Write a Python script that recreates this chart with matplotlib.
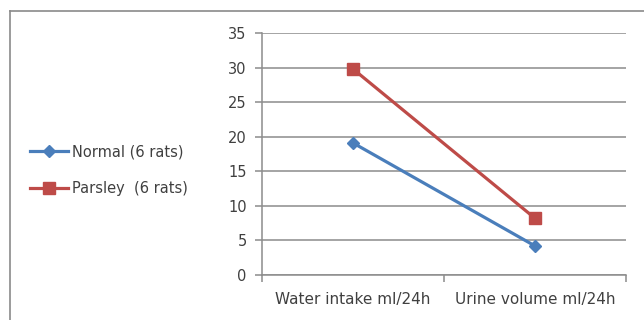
import matplotlib
matplotlib.use("Agg")
import matplotlib.pyplot as plt
from matplotlib.lines import Line2D

categories = ["Water intake ml/24h", "Urine volume ml/24h"]
normal = [19.1, 4.2]
parsley = [29.8, 8.2]
series_labels = ["Normal (6 rats)", "Parsley  (6 rats)"]
y_ticks = [0, 5, 10, 15, 20, 25, 30, 35]

blue = "#4a7ebb"
red = "#be4b48"
grid_gray = "#8c8c8c"
text_color = "#404040"
fs = 10.5

plt.rcParams["font.family"] = ["DejaVu Sans"]

W, H = 644, 320
fig = plt.figure(figsize=(W / 100, H / 100), dpi=100)
fig.patch.set_facecolor("white")

# chart frame (top and left edges)
fig.add_artist(Line2D([10 / W, 10 / W], [0, 1 - 11 / H], transform=fig.transFigure,
                      color="#8a8a8a", lw=1.2))
fig.add_artist(Line2D([10 / W, 1], [1 - 11 / H, 1 - 11 / H], transform=fig.transFigure,
                      color="#8a8a8a", lw=1.2))

left, right, top, bottom = 262, 626, 33, 275
ax = fig.add_axes([left / W, 1 - bottom / H, (right - left) / W, (bottom - top) / H])

x = [0.5, 1.5]
ax.plot(x, normal, color=blue, lw=2.3, marker="D", markersize=6.5,
        markerfacecolor=blue, markeredgecolor=blue, label=series_labels[0], zorder=3)
ax.plot(x, parsley, color=red, lw=2.3, marker="s", markersize=8.5,
        markerfacecolor=red, markeredgecolor=red, label=series_labels[1], zorder=3)

ax.set_xlim(0, 2)
ax.set_ylim(0, 35)
ax.set_yticks(y_ticks)
ax.set_yticklabels([str(v) for v in y_ticks], fontsize=fs, color=text_color)
ax.yaxis.grid(True, color=grid_gray, lw=1.1)
ax.set_axisbelow(True)

ax.set_xticks([0, 1, 2])
ax.set_xticklabels([])
ax.set_xticks(x, minor=True)
ax.set_xticklabels(categories, minor=True, fontsize=fs + 0.5, color=text_color)
ax.tick_params(axis="x", which="minor", length=0, pad=12)
ax.tick_params(axis="x", which="major", length=5, color=grid_gray, width=1.1, direction="out")
ax.tick_params(axis="y", length=5, color=grid_gray, width=1.1, direction="out", pad=6)

for s in ["top", "right"]:
    ax.spines[s].set_visible(False)
for s in ["left", "bottom"]:
    ax.spines[s].set_color(grid_gray)
    ax.spines[s].set_linewidth(1.1)

fig.legend(loc="center left", bbox_to_anchor=(17 / W, 1 - 170 / H), frameon=False,
           fontsize=fs, handlelength=2.6, handletextpad=0.3, labelspacing=1.5,
           labelcolor=text_color)

fig.savefig("out.png", dpi=100, facecolor="white")
